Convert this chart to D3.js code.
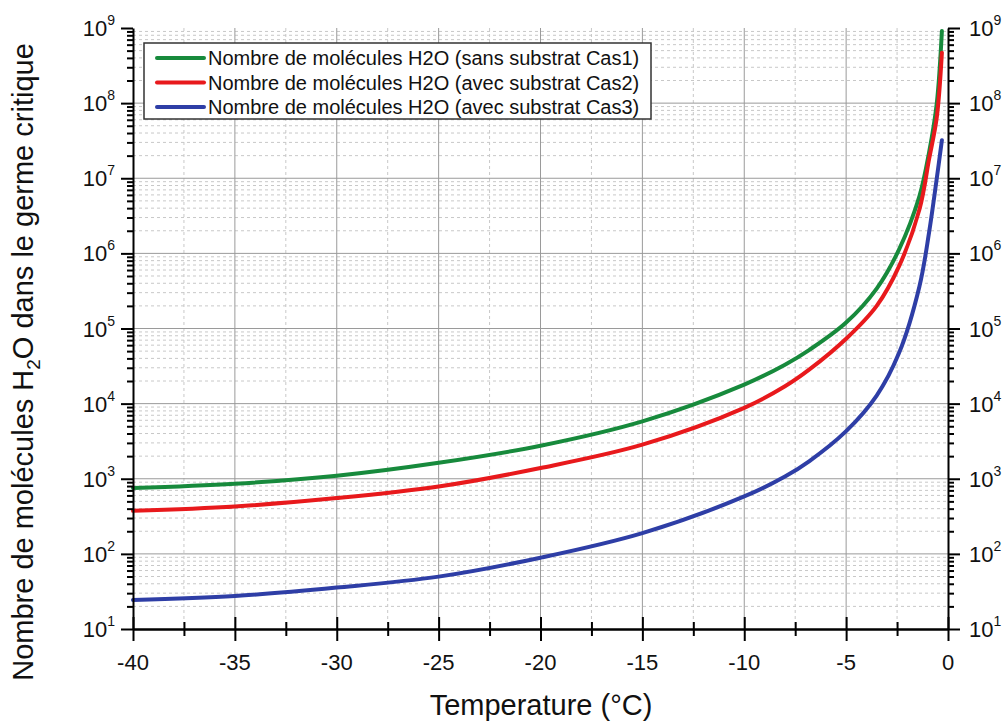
<!DOCTYPE html>
<html>
<head>
<meta charset="utf-8">
<script src="https://cdn.jsdelivr.net/npm/d3@7"></script>
<style>
  body { margin: 0; background: #fff; }
  text { font-family: "Liberation Sans", Arial, sans-serif; fill: #111; }
</style>
</head>
<body>
<div id="chart"></div>
<script>
// temperatures (°C) where the curves were read
var temps = [-40, -35, -30, -25, -20, -15, -10, -8, -6.8, -5, -3.5, -2.4, -1.4, -0.93, -0.55, -0.3];

// number of H2O molecules in the critical nucleus
var cas1 = [752, 858, 1096, 1630, 2750, 5800, 17900, 33000, 52000, 120000, 340000, 1.13e6, 5.8e6, 2.2e7, 1.0e8, 9.1e8];
var cas2 = [374, 428, 553, 789, 1390, 2840, 8770, 17000, 28500, 73000, 200000, 677000, 3.86e6, 1.79e7, 6.5e7, 4.7e8];
var cas3 = [24.4, 27.5, 35.6, 49.8, 89, 189, 581, 1070, 1720, 4300, 12800, 47400, 366000, 1.89e6, 1.0e7, 3.2e7];

var seriesNames = [
  "Nombre de molécules H2O (sans substrat Cas1)",
  "Nombre de molécules H2O (avec substrat Cas2)",
  "Nombre de molécules H2O (avec substrat Cas3)"
];
var seriesColors = ["#178a3c", "#e8191c", "#2e3ea6"];

var xMajor = [-40, -35, -30, -25, -20, -15, -10, -5, 0];
var xMinor = [-37.5, -32.5, -27.5, -22.5, -17.5, -12.5, -7.5, -2.5];
var yExponents = [1, 2, 3, 4, 5, 6, 7, 8, 9];

var width = 1005, height = 722;
var plot = {left: 133, right: 948, top: 28, bottom: 629};

var svg = d3.select("#chart")
  .append("svg")
    .attr("width", width)
    .attr("height", height);

var x = d3.scaleLinear()
  .domain([-40, 0])
  .range([plot.left, plot.right]);

var y = d3.scaleLog()
  .domain([10, 1e9])
  .range([plot.bottom, plot.top]);

var yMajor = yExponents.map(function (e) { return Math.pow(10, e); });
var yMinor = [];
yExponents.slice(0, -1).forEach(function (e) {
  for (var m = 2; m <= 9; m++) yMinor.push(m * Math.pow(10, e));
});

// grid, minor dashed first
var grid = svg.append("g");
grid.selectAll(".gxm").data(xMinor).enter().append("line")
  .attr("x1", d => x(d)).attr("x2", d => x(d))
  .attr("y1", plot.top).attr("y2", plot.bottom)
  .attr("stroke", "#c8c8c8").attr("stroke-width", 1)
  .attr("stroke-dasharray", "3,3");
grid.selectAll(".gym").data(yMinor).enter().append("line")
  .attr("x1", plot.left).attr("x2", plot.right)
  .attr("y1", d => y(d)).attr("y2", d => y(d))
  .attr("stroke", "#c8c8c8").attr("stroke-width", 1)
  .attr("stroke-dasharray", "3,3");
grid.selectAll(".gx").data(xMajor.slice(1, -1)).enter().append("line")
  .attr("x1", d => x(d)).attr("x2", d => x(d))
  .attr("y1", plot.top).attr("y2", plot.bottom)
  .attr("stroke", "#9a9a9a").attr("stroke-width", 1);
grid.selectAll(".gy").data(yMajor.slice(1, -1)).enter().append("line")
  .attr("x1", plot.left).attr("x2", plot.right)
  .attr("y1", d => y(d)).attr("y2", d => y(d))
  .attr("stroke", "#9a9a9a").attr("stroke-width", 1);

// curves
var line = d3.line()
  .x(d => x(d[0]))
  .y(d => y(d[1]))
  .curve(d3.curveCatmullRom.alpha(0.5));

[cas1, cas2, cas3].forEach(function (vals, i) {
  svg.append("path")
    .datum(temps.map((t, j) => [t, vals[j]]))
    .attr("fill", "none")
    .attr("stroke", seriesColors[i])
    .attr("stroke-width", 4)
    .attr("stroke-linecap", "round")
    .attr("d", line);
});

// axes
function styleAxis(g) {
  g.select(".domain").attr("stroke", "#000").attr("stroke-width", 2);
  g.selectAll(".tick line").attr("stroke", "#000").attr("stroke-width", 2);
  g.selectAll(".tick text").remove();
}

var xAxis = svg.append("g")
  .attr("transform", "translate(0," + plot.bottom + ")")
  .call(d3.axisBottom(x).tickValues(xMajor).tickSize(12).tickSizeOuter(0));
styleAxis(xAxis);
xAxis.selectAll(".tick line").attr("y1", -12);
var xAxisMinor = svg.append("g")
  .attr("transform", "translate(0," + plot.bottom + ")")
  .call(d3.axisBottom(x).tickValues(xMinor).tickSize(7).tickSizeOuter(0));
styleAxis(xAxisMinor);
xAxisMinor.selectAll(".tick line").attr("y1", -7);

svg.append("g").selectAll("text").data(xMajor).enter().append("text")
  .attr("x", d => x(d))
  .attr("y", 670)
  .attr("text-anchor", "middle")
  .style("font-size", "22px")
  .text(d => d);

[["left", plot.left, d3.axisLeft], ["right", plot.right, d3.axisRight]].forEach(function (a) {
  var major = svg.append("g")
    .attr("transform", "translate(" + a[1] + ",0)")
    .call(a[2](y).tickValues(yMajor).tickSize(12).tickSizeOuter(0).tickFormat(""));
  styleAxis(major);
  var minor = svg.append("g")
    .attr("transform", "translate(" + a[1] + ",0)")
    .call(a[2](y).tickValues(yMinor).tickSize(6).tickSizeOuter(0).tickFormat(""));
  styleAxis(minor);
  minor.select(".domain").remove();

  var labels = svg.append("g").selectAll("text").data(yExponents).enter().append("text")
    .attr("x", a[0] == "left" ? 115 : 969)
    .attr("y", d => y(Math.pow(10, d)) + 8)
    .attr("text-anchor", a[0] == "left" ? "end" : "start")
    .style("font-size", "22px");
  labels.append("tspan").text("10");
  labels.append("tspan")
    .attr("dy", -11)
    .style("font-size", "14px")
    .text(d => d);
});

// axis titles
svg.append("text")
  .attr("x", 541)
  .attr("y", 715)
  .attr("text-anchor", "middle")
  .style("font-size", "29px")
  .text("Temperature (°C)");

var yTitle = svg.append("text")
  .attr("transform", "translate(33,362) rotate(-90)")
  .attr("text-anchor", "middle")
  .style("font-size", "29px");
yTitle.append("tspan").text("Nombre de molécules H");
yTitle.append("tspan").attr("dy", 7).style("font-size", "19px").text("2");
yTitle.append("tspan").attr("dy", -7).text("O dans le germe critique");

// legend
var legend = svg.append("g");
legend.append("rect")
  .attr("x", 144).attr("y", 43)
  .attr("width", 507).attr("height", 76)
  .attr("fill", "#fff")
  .attr("stroke", "#333")
  .attr("stroke-width", 1.5);
seriesNames.forEach(function (name, i) {
  var ly = 58 + i * 24.5;
  legend.append("line")
    .attr("x1", 157).attr("x2", 204)
    .attr("y1", ly).attr("y2", ly)
    .attr("stroke", seriesColors[i])
    .attr("stroke-width", 4)
    .attr("stroke-linecap", "round");
  legend.append("text")
    .attr("x", 208)
    .attr("y", ly + 7)
    .style("font-size", "20px")
    .text(name);
});
</script>
</body>
</html>
